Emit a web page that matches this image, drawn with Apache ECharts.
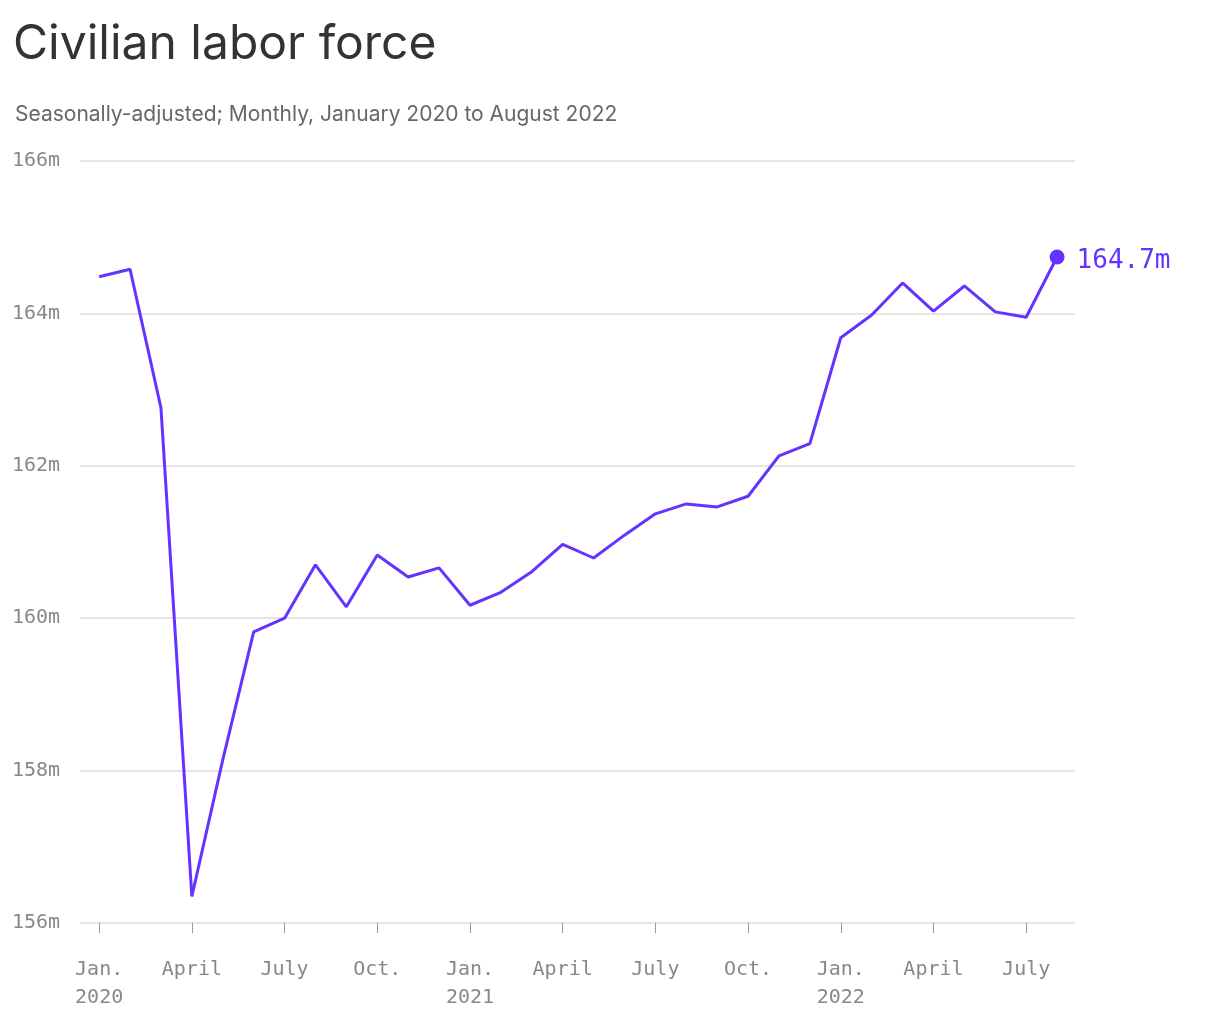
<!DOCTYPE html>
<html>
<head>
<meta charset="utf-8">
<script src="https://cdn.jsdelivr.net/npm/echarts@6/dist/echarts.min.js"></script>
<style>
  html, body { margin: 0; padding: 0; background: #fff; }
  #chart { width: 1220px; height: 1020px; }
</style>
</head>
<body>
<div id="chart"></div>
<script>
// 数据：每月劳动力（百万），2020年1月 起
const months = ['Jan. 2020','Feb.','March','April','May','June','July','Aug.','Sept.','Oct.','Nov.','Dec.',
  'Jan. 2021','Feb.','March','April','May','June','July','Aug.','Sept.','Oct.','Nov.','Dec.',
  'Jan. 2022','Feb.','March','April','May','June','July','Aug. 2022'];
const laborForce = [164.48, 164.58, 162.76, 156.35, 158.14, 159.82, 160.00, 160.70, 160.15, 160.83, 160.54, 160.66,
  160.17, 160.34, 160.61, 160.97, 160.79, 161.09, 161.37, 161.50, 161.46, 161.60, 162.13, 162.29,
  163.68, 163.98, 164.40, 164.03, 164.36, 164.02, 163.95, 164.74];
const tickIdx = [0, 3, 6, 9, 12, 15, 18, 21, 24, 27, 30];
const tickLabels = ['Jan.\n2020','April','July','Oct.','Jan.\n2021','April','July','Oct.','Jan.\n2022','April','July'];

const purple = '#6533ff';
const mono = '"DejaVu Sans Mono", monospace';

const chart = echarts.init(document.getElementById('chart'));
const lastIdx = laborForce.length - 1;

chart.setOption({
  animation: false,
  title: [
    { text: 'Civilian labor force', left: 8, top: 16,
      textStyle: { fontFamily: 'Inter', fontSize: 48, fontWeight: 400, color: '#333' } },
    { text: 'Seasonally-adjusted; Monthly, January 2020 to August 2022', left: 10, top: 99,
      textStyle: { fontFamily: 'Inter', fontSize: 21, fontWeight: 400, color: '#666' } }
  ],
  grid: { left: 80, right: 145, top: 161, bottom: 97 },
  xAxis: {
    type: 'value', min: -0.62, max: 31.58,
    axisLine: { show: false },
    splitLine: { show: false },
    axisTick: { show: true, customValues: tickIdx, length: 10, lineStyle: { color: '#999' } },
    axisLabel: {
      customValues: tickIdx,
      formatter: v => tickLabels[tickIdx.indexOf(Math.round(v))] || '',
      fontFamily: mono, fontSize: 20, color: '#888', lineHeight: 28, margin: 33
    }
  },
  yAxis: {
    type: 'value', min: 156, max: 166, interval: 2,
    axisLine: { show: false }, axisTick: { show: false },
    splitLine: { lineStyle: { color: '#ddd', width: 1.5 } },
    axisLabel: {
      formatter: v => v + 'm', fontFamily: mono, fontSize: 20, color: '#888',
      align: 'left', margin: 68, verticalAlign: 'middle'
    }
  },
  series: [{
    type: 'line',
    data: laborForce.map((v, i) => [i, v]),
    showSymbol: false,
    lineStyle: { color: purple, width: 3 },
    markPoint: {
      data: [{ coord: [lastIdx, laborForce[lastIdx]] }],
      symbol: 'circle', symbolSize: 15,
      itemStyle: { color: purple },
      label: {
        show: true, position: 'right', distance: 12, offset: [0, 4],
        formatter: laborForce[lastIdx].toFixed(1) + 'm',
        fontFamily: mono, fontSize: 26, color: purple
      }
    }
  }]
});
</script>
</body>
</html>
